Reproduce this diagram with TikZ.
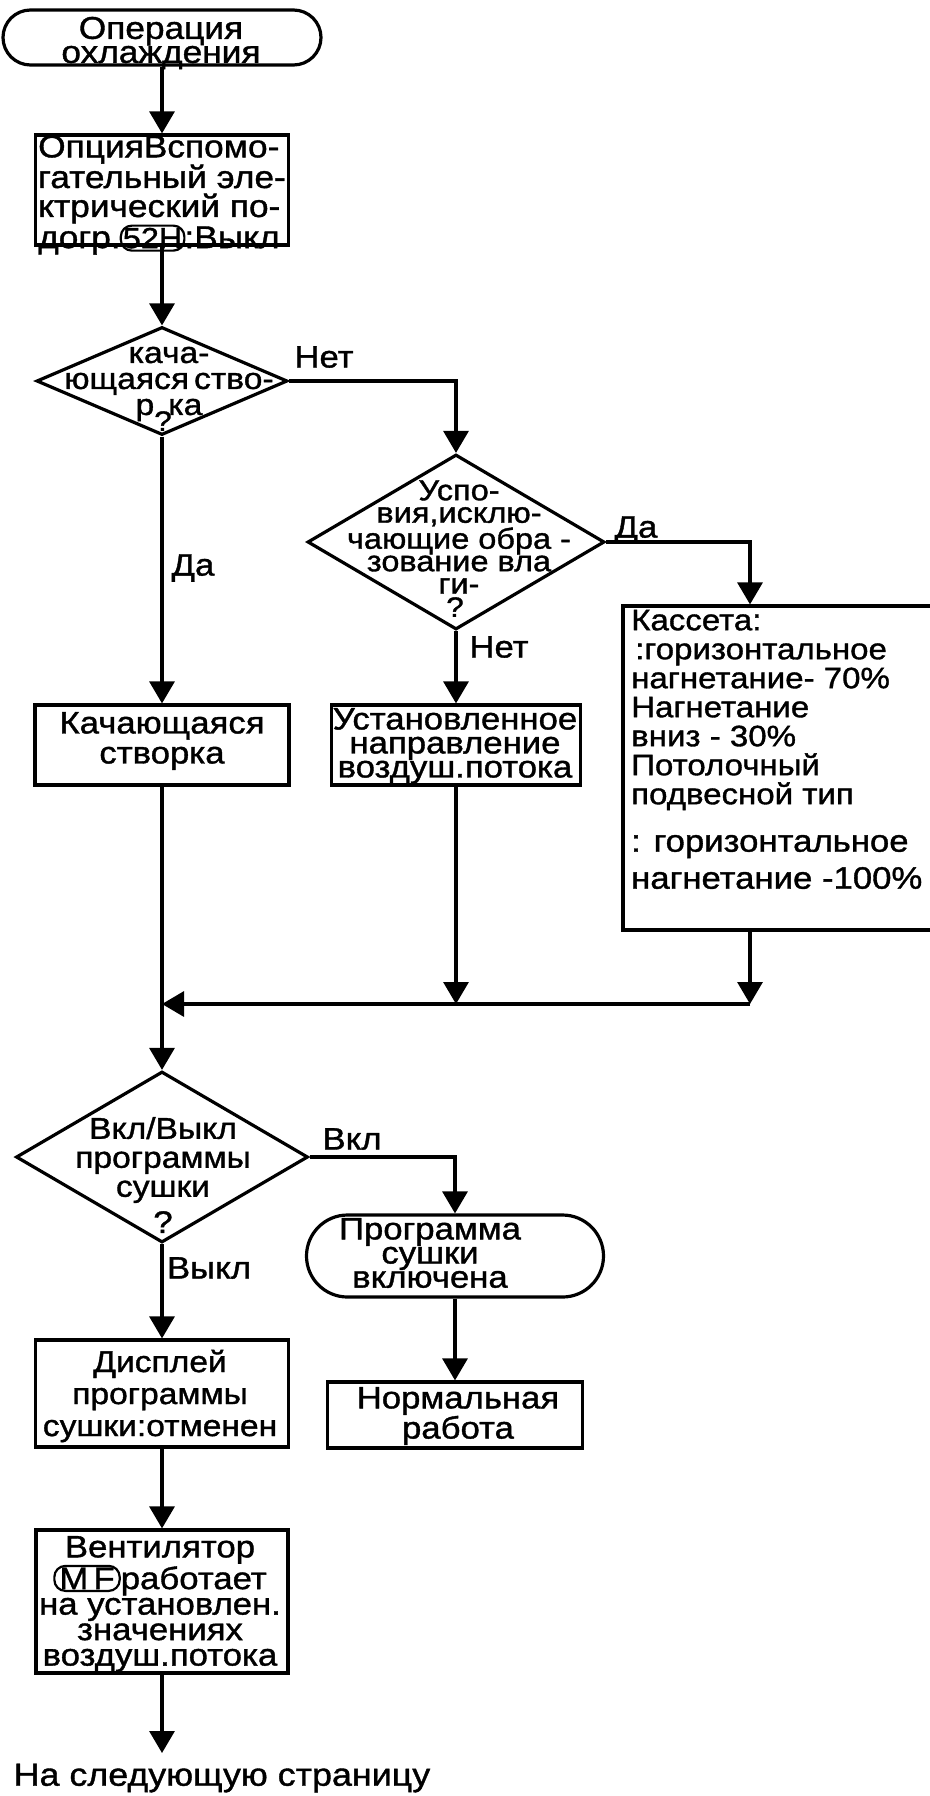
\documentclass[tikz,border=0pt]{standalone}
\usepackage{fontspec}
\setmainfont{Liberation Sans}[FakeStretch=1.12,FakeBold=1.2]
\usetikzlibrary{arrows.meta,shapes.geometric,shapes.misc}
\newcommand{\fs}[2]{\fontsize{#1}{#2}\selectfont}
\newcommand{\ovl}[3][1pt]{\tikz[baseline=(#2.base)]\node[draw,rectangle,rounded corners=11pt,line width=2.2pt,inner xsep=#1,inner ysep=1pt,minimum height=25pt](#2){#3};}
\begin{document}
\begin{tikzpicture}[x=1pt,y=-1pt,
  box/.style={draw,rectangle,inner sep=0pt,line width=3.2pt},
  term/.style={draw,rounded rectangle,inner sep=0pt,line width=3.2pt},
  dia/.style={draw,diamond,inner sep=0pt,line width=3.2pt},
  txt/.style={inner sep=0pt,align=center},
  lbl/.style={inner sep=0pt,font=\fs{31}{31}},
  arr/.style={-{Triangle[length=22pt,width=25pt]},line width=3.2pt}]
\fill[white] (0,0) rectangle (929,1796);
\useasboundingbox (0,0) rectangle (929,1796);

% column 1
\node[term,minimum width=318pt,minimum height=55pt] (t1) at (162,37.5) {};
\node[txt,font=\fs{31.5}{24}] (t1txt) at (161,43) {Операция\\охлаждения};

\node[box,minimum width=253pt,minimum height=110pt] (b1) at (162,190) {};
\node[txt,align=left,anchor=west,font=\fs{31.5}{29}] (b1txt) at (38,195)
  {ОпцияВспомо-\\гательный эле-\\ктрический по-\\догр.\hspace{-1pt}\ovl[2pt]{o52}{\fs{29}{29}52H}\hspace{-1pt}:Выкл};

\node[dia,minimum width=251pt,minimum height=108pt] (d1) at (162,381) {};
\node[txt,font=\fs{30}{26}] (d1txt) at (169,384) {кача-\\ющаяся\,ство-\\р\hspace{14pt}ка};
\node[txt,font=\fs{28}{28}] (d1q) at (163,421) {?};
\node[lbl] (lNet1) at (324,357) {Нет};
\node[lbl] (lDa1) at (193,568) {Да};

\node[box,minimum width=254pt,minimum height=80pt] (kbox) at (162,745) {};
\node[txt,font=\fs{31}{30}] (kboxtxt) at (162,741) {Качающаяся\\створка};

% column 2
\node[dia,minimum width=297pt,minimum height=175pt] (d2) at (456,542) {};
\node[txt,font=\fs{29}{22.5}] (d2txt) at (459,537) {Успо-\\вия,исклю-\\чающие обра -\\зование вла\\ги-};
\node[txt,font=\fs{28}{28}] (d2q) at (455,607) {?};
\node[lbl] (lDa2) at (636,530) {Да};
\node[lbl] (lNet2) at (499,647) {Нет};

\node[box,minimum width=249pt,minimum height=80pt] (ust) at (456,745) {};
\node[txt,font=\fs{31}{24}] (usttxt) at (455,746) {Установленное\\направление\\воздуш.потока};

% column 3
\node[box,minimum width=320pt,minimum height=324pt] (kas) at (783,768) {};
\node[txt,align=left,anchor=west,font=\fs{29.5}{29}] (kastxt1) at (631,710)
  {Кассета:\\\hspace{4pt}:горизонтальное\\нагнетание- 70\%\\Нагнетание\\вниз - 30\%\\Потолочный\\подвесной тип};
\node[txt,align=left,anchor=west,font=\fs{31}{37}] (kastxt2) at (631,862)
  {: горизонтальное\\нагнетание -100\%};

\coordinate (mU) at (456,1004);
\coordinate (mK) at (750,1004);
\coordinate (mM) at (162,1004);

% lower part
\node[dia,minimum width=292pt,minimum height=171pt] (d3) at (162,1157) {};
\node[txt,font=\fs{30}{29}] (d3txt) at (163,1160) {Вкл/Выкл\\программы\\сушки};
\node[txt,font=\fs{31}{31}] (d3q) at (163,1222) {?};
\node[lbl] (lVkl) at (352,1139) {Вкл};
\node[lbl] (lVykl) at (209,1268) {Выкл};

\node[term,minimum width=297pt,minimum height=82pt] (t2) at (455,1256) {};
\node[txt,font=\fs{31}{22.5}] (t2txt) at (430,1253) {Программа\\сушки\\включена};

\node[box,minimum width=255pt,minimum height=66pt] (norm) at (455,1415) {};
\node[txt,font=\fs{31}{28}] (normtxt) at (458,1416) {Нормальная\\работа};

\node[box,minimum width=253pt,minimum height=107pt] (disp) at (162,1393.5) {};
\node[txt,font=\fs{30}{32}] (disptxt) at (160,1396) {Дисплей\\программы\\сушки:отменен};

\node[box,minimum width=252pt,minimum height=143pt] (vent) at (162,1601.5) {};
\node[txt,font=\fs{31}{25.5}] (venttxt) at (160,1604)
  {Вентилятор\\\ovl[5pt]{omf}{M\,F}работает\\на установлен.\\значениях\\воздуш.потока};
\coordinate (vend) at (162,1753);
\node[txt,font=\fs{32}{32}] (next) at (222,1778) {На следующую страницу};

% connectors
\draw[arr] (t1.south) -- (b1.north);
\draw[arr] (b1.south) -- (d1.north);
\draw[arr] (d1.east) -| (d2.north);
\draw[arr] (d1.south) -- (kbox.north);
\draw[arr] (d2.east) -| (mK |- kas.north);
\draw[arr] (d2.south) -- (ust.north);
\draw[arr] (ust.south) -- (mU);
\draw[arr] (mK |- kas.south) -- (mK);
\draw[arr] (mK) -- (mM);
\draw[arr] (kbox.south) -- (d3.north);
\draw[arr] (d3.east) -| (t2.north);
\draw[arr] (d3.south) -- (disp.north);
\draw[arr] (t2.south) -- (norm.north);
\draw[arr] (disp.south) -- (vent.north);
\draw[arr] (vent.south) -- (vend);
\end{tikzpicture}
\end{document}
